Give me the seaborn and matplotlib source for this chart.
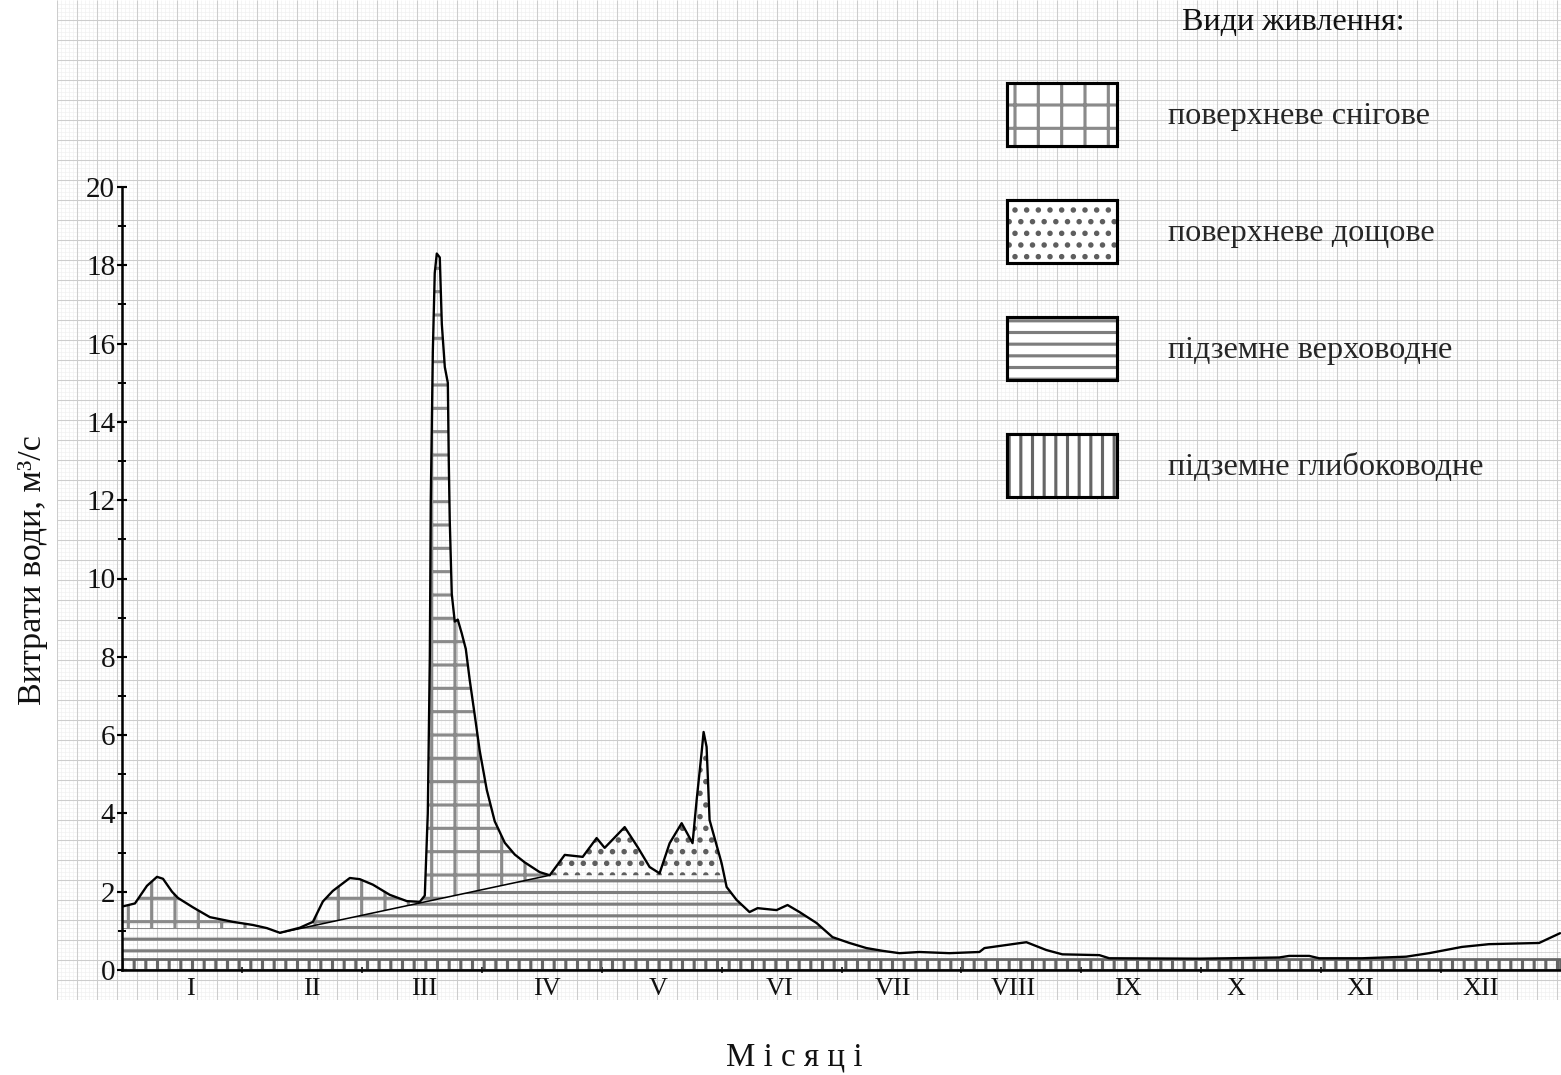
import numpy as np
import pandas as pd
import matplotlib
matplotlib.use("Agg")
import matplotlib.pyplot as plt
from matplotlib.patches import Patch
import seaborn as sns

# ---------------- data ----------------
# time axis in months (0 = 1 January, 12 = end of December)
month_x = [0.000, 0.108, 0.208, 0.292, 0.342, 0.417, 0.467, 0.592, 0.733, 0.925,
           1.092, 1.208, 1.317, 1.483, 1.592, 1.675, 1.758, 1.900, 1.983, 2.092,
           2.233, 2.375, 2.483, 2.525, 2.550, 2.567, 2.575, 2.592, 2.608, 2.625,
           2.650, 2.667, 2.692, 2.717, 2.725, 2.733, 2.750, 2.775, 2.800, 2.833,
           2.867, 2.900, 2.942, 2.983, 3.042, 3.108, 3.192, 3.275, 3.358, 3.483,
           3.567, 3.692, 3.842, 3.958, 4.025, 4.192, 4.300, 4.400, 4.483, 4.567,
           4.667, 4.758, 4.792, 4.833, 4.850, 4.875, 4.900, 5.000, 5.042, 5.125,
           5.233, 5.300, 5.458, 5.550, 5.650, 5.792, 5.925, 6.067, 6.208, 6.342,
           6.483, 6.650, 6.900, 7.150, 7.192, 7.542, 7.708, 7.842, 8.150, 8.233,
           8.983, 9.233, 9.650, 9.733, 9.900, 9.983, 10.342, 10.708, 10.900, 11.175,
           11.400, 11.817, 11.992]
# total water discharge, m3/s
discharge = [1.62, 1.70, 2.15, 2.38, 2.33, 2.00, 1.84, 1.60, 1.35, 1.23,
             1.15, 1.07, 0.95, 1.08, 1.23, 1.75, 2.02, 2.35, 2.32, 2.18,
             1.92, 1.76, 1.74, 1.90, 4.00, 8.00, 12.0, 15.8, 17.8, 18.3,
             18.2, 16.5, 15.4, 15.0, 13.0, 11.5, 9.60, 8.90, 8.95, 8.60,
             8.20, 7.40, 6.50, 5.60, 4.60, 3.80, 3.25, 2.95, 2.75, 2.50,
             2.42, 2.94, 2.89, 3.37, 3.12, 3.65, 3.14, 2.63, 2.47, 3.24,
             3.75, 3.24, 4.34, 5.54, 6.08, 5.70, 3.83, 2.73, 2.12, 1.79,
             1.48, 1.58, 1.53, 1.66, 1.48, 1.20, 0.84, 0.69, 0.56, 0.49,
             0.43, 0.46, 0.43, 0.46, 0.56, 0.71, 0.51, 0.40, 0.38, 0.30,
             0.29, 0.30, 0.32, 0.36, 0.36, 0.30, 0.30, 0.34, 0.43, 0.59,
             0.66, 0.69, 0.94]
# drawn separation line: top of shallow ("верховодне") groundwater feeding
sep_x = [0.000, 1.200, 1.317, 3.567, 5.000, 6.483, 7.192, 7.842, 8.150, 10.900, 11.175, 12.0]
sep_q = [1.07, 1.07, 0.95, 2.42, 2.42, 0.43, 0.42, 0.38, 0.28, 0.28, 0.45, 0.45]
deep_top = 0.28          # top of deep groundwater feeding
snow_end = 3.567         # snow feeding drawn up to here
rain_end = 5.000         # spring rain feeding ends here

month_labels = ["I", "II", "III", "IV", "V", "VI", "VII", "VIII", "IX", "X", "XI", "XII"]
month_label_pos = [0.57, 1.58, 2.52, 3.54, 4.47, 5.48, 6.43, 7.43, 8.39, 9.29, 10.33, 11.33]
y_ticks = list(range(0, 21, 2))
legend_title = "Види живлення:"
legend_labels = ["поверхневе снігове", "поверхневе дощове",
                 "підземне верховодне", "підземне глибоководне"]

# ---------------- figure ----------------
W, H, DPI = 1561, 1075, 140
sns.set_theme(style="white")
plt.rcParams["font.family"] = ["Liberation Serif", "DejaVu Serif"]
plt.rcParams["hatch.linewidth"] = 1.6

fig = plt.figure(figsize=(W / DPI, H / DPI), dpi=DPI)
fig.patch.set_facecolor("white")

# graph-paper background
bg = fig.add_axes([57 / W, 1 - 1000 / H, 1 - 57 / W, 1000 / H], zorder=0)
bg.set_xlim(57, W)
bg.set_ylim(0, 1000)
bg.axis("off")
bg.vlines(np.arange(57, W, 4), 0, 1000, color="#efefef", lw=0.3)
bg.hlines(np.arange(0, 1000, 4), 57, W, color="#efefef", lw=0.3)
bg.vlines(np.arange(57, W, 20), 0, 1000, color="#cdcdcd", lw=0.55)
bg.hlines(np.arange(0, 1000, 20), 57, W, color="#cdcdcd", lw=0.55)

ax = fig.add_axes([122 / W, 1 - 970 / H, 1 - 122 / W, (970 - 187) / H], zorder=1)
ax.patch.set_alpha(0)

df = pd.DataFrame({"month": month_x, "q": discharge})
x = df["month"].to_numpy()
q = df["q"].to_numpy()
base = np.minimum(np.interp(x, sep_x, sep_q), q)

snow_col, rain_col, shallow_col, deep_col = "#8a8a8a", "#5e5e5e", "#7d7d7d", "#666666"
# deep groundwater
ax.fill_between(x, 0, deep_top, facecolor="none", edgecolor=deep_col, hatch="||", lw=1.4)
# shallow groundwater
ax.fill_between(x, deep_top, base, facecolor="none", edgecolor=shallow_col, hatch="--", lw=0)
# snow feeding
ax.fill_between(x, base, q, where=x <= snow_end, facecolor="none",
                edgecolor=snow_col, hatch="+", lw=0)
# rain feeding
ax.fill_between(x, base, q, where=(x >= snow_end) & (x <= rain_end), facecolor="none",
                edgecolor=rain_col, hatch="..", lw=0)

# separation line and hydrograph
sep_line = np.where((x >= 1.317) & (x <= snow_end), base, np.nan)
ax.plot(x, sep_line, color="black", lw=0.8)
sns.lineplot(data=df, x="month", y="q", color="black", lw=1.2, ax=ax,
             sort=False, estimator=None)

ax.set_xlim(0, 12)
ax.set_ylim(0, 20)
for s in ["top", "right"]:
    ax.spines[s].set_visible(False)
for s in ["left", "bottom"]:
    ax.spines[s].set_color("black")
    ax.spines[s].set_linewidth(1.3)

ax.set_yticks(y_ticks)
ax.set_yticks(range(1, 20, 2), minor=True)
ax.set_xticks(month_label_pos)
ax.set_xticklabels(month_labels)
ax.set_xticks(range(1, 12), minor=True)
ax.tick_params(axis="y", which="major", left=True, direction="inout", length=5,
               width=1.1, color="black", labelsize=15, pad=1, labelcolor="#111111")
ax.tick_params(axis="y", which="minor", left=True, direction="inout", length=4,
               width=1.0, color="black")
ax.tick_params(axis="x", which="major", bottom=True, length=0, labelsize=13.5, pad=4,
               labelcolor="#111111")
ax.tick_params(axis="x", which="minor", bottom=True, direction="inout", length=3,
               width=1.0, color="#333333")
ax.grid(False)

ax.set_ylabel("Витрати води, м³/с", fontsize=17.5, color="#111111", va="center")
ax.yaxis.set_label_coords(-0.0618, 0.511)
ax.set_xlabel("М і с я ц і", fontsize=17, color="#111111", va="center")
ax.xaxis.set_label_coords(0.467, -0.112)

# legend
fs = 16.6
fspx = fs * DPI / 72
hatches = ["+", "..", "--", "||"]
hcols = [snow_col, rain_col, shallow_col, deep_col]
handles = [(Patch(facecolor="white", edgecolor=c, hatch=h, lw=0),
            Patch(facecolor="none", edgecolor="black", lw=1.6))
           for h, c in zip(hatches, hcols)]
hh = (63 / fspx - 0.245) / 0.65
fig.legend(handles, legend_labels, loc="upper left",
           bbox_to_anchor=(1007 / W, 1 - 83 / H), frameon=False,
           fontsize=fs, handlelength=110 / fspx, handleheight=hh,
           labelspacing=54 / fspx, handletextpad=51 / fspx,
           borderpad=0, borderaxespad=0)
fig.text(1182 / W, 1 - 22 / H, legend_title, fontsize=fs, color="#111111",
         ha="left", va="center")

fig.savefig("out.png", dpi=DPI)
